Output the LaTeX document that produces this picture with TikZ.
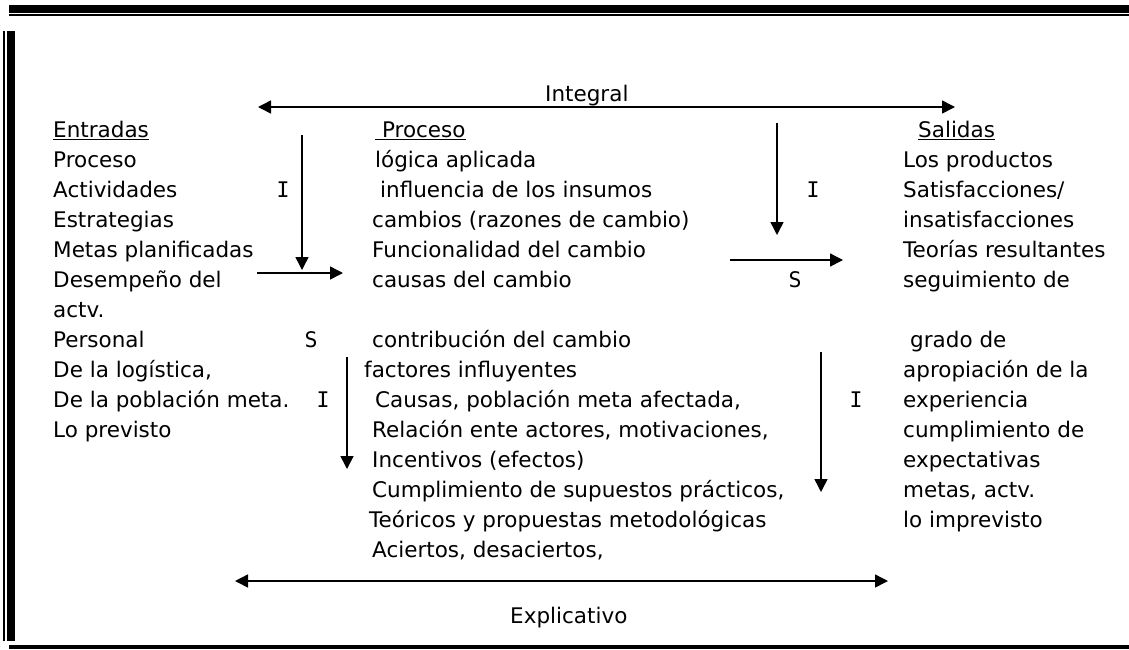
\documentclass[tikz,border=0pt]{standalone}
\usepackage{fontspec}
\setmainfont{DejaVu Sans}
\newfontfamily\marcafont{DejaVu Sans Mono}
\usetikzlibrary{arrows.meta}

\begin{document}
\begin{tikzpicture}[x=1pt,y=-1pt,
  flecha/.style={line width=1.5pt,-{Triangle[length=13pt,width=13pt]}},
  doble/.style={line width=1.5pt,{Triangle[length=13pt,width=13pt]}-{Triangle[length=13pt,width=13pt]}},
  texto/.style={anchor=base west,inner sep=0pt,font=\fontsize{21.5}{30}\selectfont},
  marca/.style={anchor=base,inner sep=0pt,font=\fontsize{21.5}{30}\marcafont}]
\useasboundingbox (0,0) rectangle (1129,649);
\fill [black] (9,5) rectangle (1129,12.7);
\fill [black] (9,14.4) rectangle (1129,16);
\fill [black] (3,31) rectangle (5,641);
\fill [black] (7.3,31) rectangle (15,641);
\fill [black] (9,645) rectangle (1129,649);
\node [texto] (integral) at (545,101) {Integral};
\node [texto] (ent0) at (53,137) {\underline{Entradas}};
\node [texto] (ent1) at (53,167) {Proceso};
\node [texto] (ent2) at (53,197) {Actividades};
\node [texto] (ent3) at (53,227) {Estrategias};
\node [texto] (ent4) at (53,257) {Metas planificadas};
\node [texto] (ent5) at (53,287) {Desempeño del};
\node [texto] (ent6) at (53,317) {actv.};
\node [texto] (ent7) at (53,347) {Personal};
\node [texto] (ent8) at (53,377) {De la logística,};
\node [texto] (ent9) at (53,407) {De la población meta.};
\node [texto] (ent10) at (53,437) {Lo previsto};
\node [texto] (pro0) at (375,137) {\underline{\ Proceso}};
\node [texto] (pro1) at (375,167) {lógica aplicada};
\node [texto] (pro2) at (380,197) {influencia de los insumos};
\node [texto] (pro3) at (372,227) {cambios (razones de cambio)};
\node [texto] (pro4) at (372,257) {Funcionalidad del cambio};
\node [texto] (pro5) at (372,287) {causas del cambio};
\node [texto] (pro7) at (372,347) {contribución del cambio};
\node [texto] (pro8) at (364,377) {factores influyentes};
\node [texto] (pro9) at (375,407) {Causas, población meta afectada,};
\node [texto] (pro10) at (372,437) {Relación ente actores, motivaciones,};
\node [texto] (pro11) at (372,467) {Incentivos (efectos)};
\node [texto] (pro12) at (372,497) {Cumplimiento de supuestos prácticos,};
\node [texto] (pro13) at (369,527) {Teóricos y propuestas metodológicas};
\node [texto] (pro14) at (372,557) {Aciertos, desaciertos,};
\node [texto] (sal0) at (918,137) {\underline{Salidas}};
\node [texto] (sal1) at (903,167) {Los productos};
\node [texto] (sal2) at (903,197) {Satisfacciones/};
\node [texto] (sal3) at (903,227) {insatisfacciones};
\node [texto] (sal4) at (903,257) {Teorías resultantes};
\node [texto] (sal5) at (903,287) {seguimiento de};
\node [texto] (sal7) at (910,347) {grado de};
\node [texto] (sal8) at (903,377) {apropiación de la};
\node [texto] (sal9) at (903,407) {experiencia};
\node [texto] (sal10) at (903,437) {cumplimiento de};
\node [texto] (sal11) at (903,467) {expectativas};
\node [texto] (sal12) at (903,497) {metas, actv.};
\node [texto] (sal13) at (903,527) {lo imprevisto};
\node [texto] (explicativo) at (510,623) {Explicativo};
\node [marca] (mI1) at (283,197) {I};
\node [marca] (mS1) at (311,347) {S};
\node [marca] (mI2) at (323,407) {I};
\node [marca] (mI3) at (813,197) {I};
\node [marca] (mS2) at (795,287) {S};
\node [marca] (mI4) at (856,407) {I};
\coordinate (intI) at (258,107);
\coordinate (intD) at (955,107);
\coordinate (expI) at (235,581);
\coordinate (expD) at (888,581);
\coordinate (f1a) at (302,135);
\coordinate (f1b) at (302,270);
\coordinate (f2a) at (257,273);
\coordinate (f2b) at (343,273);
\coordinate (f3a) at (347,357);
\coordinate (f3b) at (347,469);
\coordinate (f4a) at (777,123);
\coordinate (f4b) at (777,235);
\coordinate (f5a) at (730,260);
\coordinate (f5b) at (843,260);
\coordinate (f6a) at (821,352);
\coordinate (f6b) at (821,492);
\draw [doble] (intI) -- (intD);
\draw [doble] (expI) -- (expD);
\draw [flecha] (f1a) -- (f1b);
\draw [flecha] (f2a) -- (f2b);
\draw [flecha] (f3a) -- (f3b);
\draw [flecha] (f4a) -- (f4b);
\draw [flecha] (f5a) -- (f5b);
\draw [flecha] (f6a) -- (f6b);
\end{tikzpicture}
\end{document}
